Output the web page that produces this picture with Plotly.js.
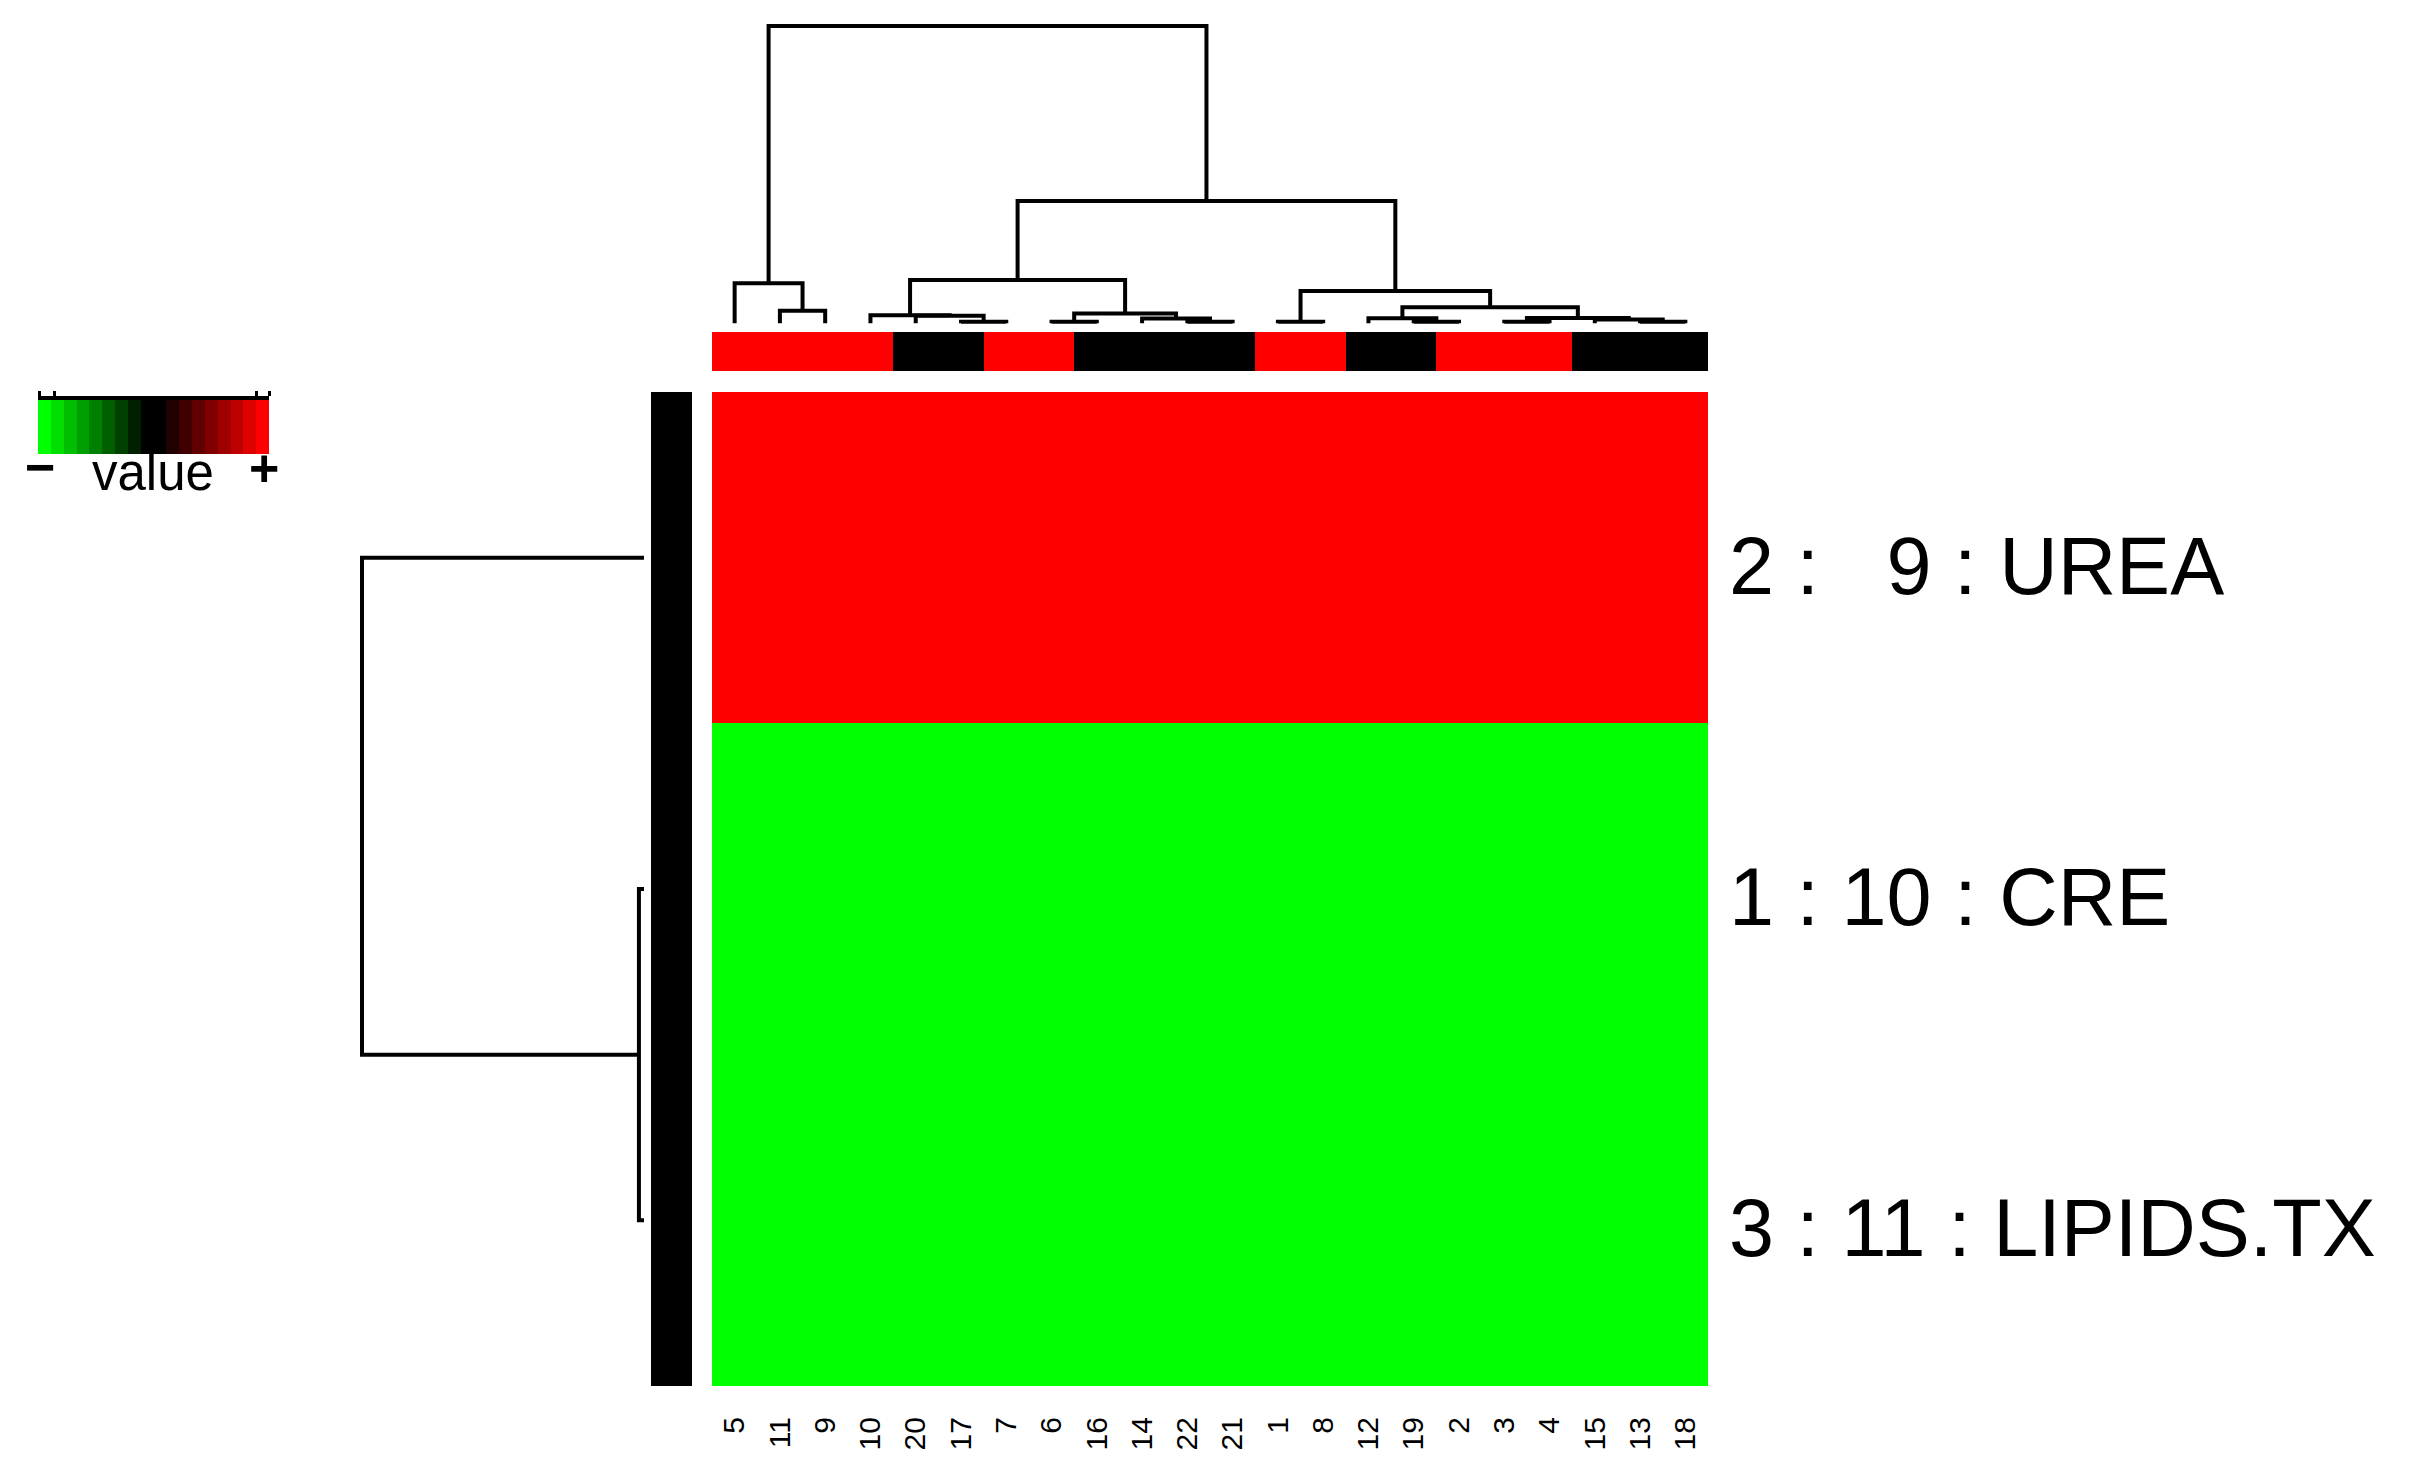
<!DOCTYPE html>
<html><head><meta charset="utf-8">
<script src="https://cdn.plot.ly/plotly-3.0.1.min.js"></script>
<style>html,body{margin:0;padding:0;background:#fff;overflow:hidden}</style>
</head><body><div id="chart" style="width:2412px;height:1477px"></div>
<script>
// ---------------- data ----------------
const colLabels = ["5","11","9","10","20","17","7","6","16","14","22","21","1","8","12","19","2","3","4","15","13","18"];
// column side colour group: 1 = red, 0 = black
const colGroup  = [1,1,1,1,0,0,1,1,0,0,0,0,1,1,0,0,1,1,1,0,0,0];
const rowIds    = ["UREA","CRE","LIPIDS.TX"];
const rowLabels = ["2 :\u00a0\u00a0\u00a09 : UREA","1 : 10 : CRE","3 : 11 : LIPIDS.TX"];
const rowGroup  = [0,0,0];
// scaled values (row order UREA, CRE, LIPIDS.TX; columns in colLabels order)
const valUREA   = [1,1,1,1,1,1,1,1,1,1,1,1,1,1,1,1,1,1,1,1,1,1];
const valCRE    = [-1,-1,-1,-1,-1,-1,-1,-1,-1,-1,-1,-1,-1,-1,-1,-1,-1,-1,-1,-1,-1,-1];
const valLIPIDS = [-1,-1,-1,-1,-1,-1,-1,-1,-1,-1,-1,-1,-1,-1,-1,-1,-1,-1,-1,-1,-1,-1];
// column dendrogram merges (leaf label or "mK" = K-th merge), heights
const colMergeLeft   = ["17","6","22","1","19","3","13","12","14","15","m6","20","10","m2","11","m8","m4","5","m13","m19","m18"];
const colMergeRight  = ["7","16","21","8","2","4","18","m5","m3","m7","m10","m1","m12","m9","9","m11","m16","m15","m14","m17","m20"];
const colMergeHeight = [0.05,0.05,0.05,0.05,0.05,0.05,0.05,0.17,0.16,0.13,0.18,0.25,0.27,0.33,0.42,0.54,1.09,1.35,1.46,4.11,10];
// row dendrogram merges
const rowMergeLeft   = ["CRE","UREA"];
const rowMergeRight  = ["LIPIDS.TX","m1"];
const rowMergeHeight = [0.18,10];
// colour key palette (green - black - red, 18 levels) and key levels
const palette = ["#00FF00","#00DF00","#00BF00","#009F00","#008000","#006000","#004000","#002000","#000000",
                 "#000000","#200000","#400000","#600000","#800000","#9F0000","#BF0000","#DF0000","#FF0000"];
const keyLevels = [0,1,2,3,4,5,6,7,8,9,10,11,12,13,14,15,16,17];
const keyTicks  = [0.15,1.25,17,18];

// ---------------- helpers ----------------
const W = 2412, H = 1477;
const px = p => p / W;
const py = p => 1 - p / H;

function dendro(order, L, R, Hs) {
  const pos = [], hgt = [];
  const info = {};
  order.forEach((lab, i) => { info[lab] = {p: i, h: 0}; });
  for (let k = 0; k < L.length; k++) {
    const a = info[L[k]], b = info[R[k]], h = Hs[k];
    pos.push(a.p, a.p, b.p, b.p, null);
    hgt.push(a.h, h, h, b.h, null);
    info['m' + (k + 1)] = {p: (a.p + b.p) / 2, h: h};
  }
  return {pos, hgt};
}

const discreteScale = [];
palette.forEach((c, i) => { discreteScale.push([i / palette.length, c]); discreteScale.push([(i + 1) / palette.length, c]); });

const cd = dendro(colLabels, colMergeLeft, colMergeRight, colMergeHeight);
const rd = dendro(rowIds, rowMergeLeft, rowMergeRight, rowMergeHeight);

const FONT = 'Liberation Sans, Arial, Helvetica, sans-serif';

const traces = [
  { type: 'heatmap', x: colLabels, y: rowLabels, z: [valUREA, valCRE, valLIPIDS],
    colorscale: discreteScale, zmin: -1, zmax: 1, showscale: false, xaxis: 'x', yaxis: 'y', hoverinfo: 'skip' },
  { type: 'heatmap', x: colLabels, y: [0], z: [colGroup],
    colorscale: [[0, '#000000'], [1, '#FF0000']], zmin: 0, zmax: 1, showscale: false, xaxis: 'x', yaxis: 'y2', hoverinfo: 'skip' },
  { type: 'heatmap', x: [0], y: rowLabels, z: rowGroup.map(g => [g]),
    colorscale: [[0, '#000000'], [1, '#FF0000']], zmin: 0, zmax: 1, showscale: false, xaxis: 'x2', yaxis: 'y', hoverinfo: 'skip' },
  { type: 'scatter', mode: 'lines', x: cd.pos, y: cd.hgt, connectgaps: false,
    line: {color: '#000', width: 4}, xaxis: 'x3', yaxis: 'y3', hoverinfo: 'skip' },
  { type: 'scatter', mode: 'lines', x: rd.hgt, y: rd.pos, connectgaps: false,
    line: {color: '#000', width: 4}, xaxis: 'x4', yaxis: 'y4', hoverinfo: 'skip' },
  { type: 'heatmap', x: keyLevels.map(v => v + 0.5), y: [0], z: [keyLevels],
    colorscale: discreteScale, zmin: -0.5, zmax: 17.5, showscale: false, xaxis: 'x5', yaxis: 'y5', hoverinfo: 'skip' }
];

const hidden = {showgrid: false, zeroline: false, showticklabels: false, ticks: '', showline: false};

const rowAnn = rowLabels.map(t => ({
  xref: 'paper', yref: 'y', x: px(1727), y: t, text: t, showarrow: false,
  xanchor: 'left', yanchor: 'middle', yshift: -8,
  font: {size: 81, family: FONT, color: '#000'}
}));

const layout = {
  width: W, height: H, margin: {l: 0, r: 0, t: 0, b: 0},
  paper_bgcolor: '#fff', plot_bgcolor: 'rgba(0,0,0,0)', showlegend: false,
  font: {family: FONT, color: '#000'},
  xaxis: {domain: [px(712), px(1708)], type: 'category', range: [-0.5, 21.5], anchor: 'y',
          showgrid: false, zeroline: false, ticks: '', tickangle: -90, showline: false,
          tickfont: {size: 30, family: FONT, color: '#000'}, ticklabelstandoff: 24},
  yaxis: {domain: [py(1386), py(392)], type: 'category', range: [2.5, -0.5], anchor: 'x', side: 'right',
          showgrid: false, zeroline: false, ticks: '', showline: false, showticklabels: false},
  yaxis2: Object.assign({domain: [py(371), py(332)], range: [-0.5, 0.5], anchor: 'x'}, hidden),
  xaxis2: Object.assign({domain: [px(651), px(692)], range: [-0.5, 0.5], anchor: 'y'}, hidden),
  xaxis3: Object.assign({domain: [px(712), px(1708)], range: [-0.5, 21.5], anchor: 'y3'}, hidden),
  yaxis3: Object.assign({domain: [py(330), py(10)], range: [-0.2254, 10.538], anchor: 'x3'}, hidden),
  xaxis4: Object.assign({domain: [px(350), px(648)], range: [10.426, -0.142], anchor: 'y4'}, hidden),
  yaxis4: Object.assign({domain: [py(1386), py(392)], range: [2.5, -0.5], anchor: 'x4'}, hidden),
  xaxis5: {domain: [px(38), px(269)], range: [0, 18], anchor: 'y5', side: 'top',
           showgrid: false, zeroline: false, showticklabels: false,
           showline: true, linecolor: '#000', linewidth: 4,
           ticks: 'outside', ticklen: 5, tickwidth: 3, tickcolor: '#000',
           tickmode: 'array', tickvals: keyTicks},
  yaxis5: Object.assign({domain: [py(454), py(400)], range: [-0.5, 0.5], anchor: 'x5'}, hidden),
  annotations: [
    {xref: 'paper', yref: 'paper', x: px(40), y: py(467), text: '\u2212', showarrow: false,
     xanchor: 'center', yanchor: 'middle', font: {size: 52, family: FONT, color: '#000', weight: 'bold'}},
    {xref: 'paper', yref: 'paper', x: px(153), y: py(472), text: 'value', showarrow: false,
     xanchor: 'center', yanchor: 'middle', font: {size: 51, family: FONT, color: '#000'}},
    {xref: 'paper', yref: 'paper', x: px(264), y: py(468), text: '+', showarrow: false,
     xanchor: 'center', yanchor: 'middle', font: {size: 52, family: FONT, color: '#000', weight: 'bold'}}
  ].concat(rowAnn)
};

Plotly.newPlot('chart', traces, layout, {staticPlot: true, displayModeBar: false});
</script>
</body></html>
